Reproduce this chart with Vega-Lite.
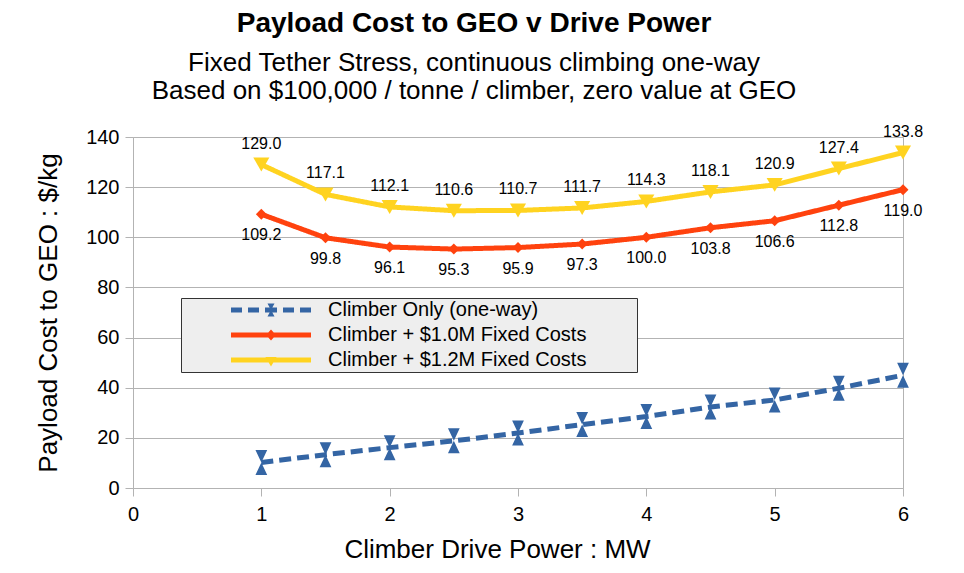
{
  "$schema": "https://vega.github.io/schema/vega-lite/v6.json",
  "width": 770,
  "height": 351,
  "autosize": {"type": "none"},
  "padding": {"left": 133, "top": 137, "right": 61, "bottom": 85},
  "background": "white",
  "config": {
    "font": "Liberation Sans",
    "view": {"stroke": "#b3b3b3", "strokeWidth": 1}
  },
  "title": {
    "text": "Payload Cost to GEO v Drive Power",
    "subtitle": [
      "Fixed Tether Stress, continuous climbing one-way",
      "Based on $100,000 / tonne / climber, zero value at GEO"
    ],
    "font": "Liberation Sans",
    "fontSize": 28,
    "fontWeight": "bold",
    "color": "#000000",
    "subtitleFont": "Liberation Sans",
    "subtitleFontSize": 26,
    "subtitleColor": "#000000",
    "subtitleLineHeight": 28,
    "subtitlePadding": 12,
    "anchor": "middle",
    "frame": "group",
    "offset": 20,
    "dx": -44
  },
  "data": {
    "values": [
      {"power": 1.0, "cost": 10.2, "series": "Climber Only (one-way)"},
      {"power": 1.5, "cost": 13.3, "series": "Climber Only (one-way)"},
      {"power": 2.0, "cost": 16.1, "series": "Climber Only (one-way)"},
      {"power": 2.5, "cost": 18.8, "series": "Climber Only (one-way)"},
      {"power": 3.0, "cost": 21.9, "series": "Climber Only (one-way)"},
      {"power": 3.5, "cost": 25.3, "series": "Climber Only (one-way)"},
      {"power": 4.0, "cost": 28.5, "series": "Climber Only (one-way)"},
      {"power": 4.5, "cost": 32.3, "series": "Climber Only (one-way)"},
      {"power": 5.0, "cost": 35.1, "series": "Climber Only (one-way)"},
      {"power": 5.5, "cost": 39.8, "series": "Climber Only (one-way)"},
      {"power": 6.0, "cost": 45.0, "series": "Climber Only (one-way)"},
      {"power": 1.0, "cost": 109.2, "series": "Climber + $1.0M Fixed Costs"},
      {"power": 1.5, "cost": 99.8, "series": "Climber + $1.0M Fixed Costs"},
      {"power": 2.0, "cost": 96.1, "series": "Climber + $1.0M Fixed Costs"},
      {"power": 2.5, "cost": 95.3, "series": "Climber + $1.0M Fixed Costs"},
      {"power": 3.0, "cost": 95.9, "series": "Climber + $1.0M Fixed Costs"},
      {"power": 3.5, "cost": 97.3, "series": "Climber + $1.0M Fixed Costs"},
      {"power": 4.0, "cost": 100.0, "series": "Climber + $1.0M Fixed Costs"},
      {"power": 4.5, "cost": 103.8, "series": "Climber + $1.0M Fixed Costs"},
      {"power": 5.0, "cost": 106.6, "series": "Climber + $1.0M Fixed Costs"},
      {"power": 5.5, "cost": 112.8, "series": "Climber + $1.0M Fixed Costs"},
      {"power": 6.0, "cost": 119.0, "series": "Climber + $1.0M Fixed Costs"},
      {"power": 1.0, "cost": 129.0, "series": "Climber + $1.2M Fixed Costs"},
      {"power": 1.5, "cost": 117.1, "series": "Climber + $1.2M Fixed Costs"},
      {"power": 2.0, "cost": 112.1, "series": "Climber + $1.2M Fixed Costs"},
      {"power": 2.5, "cost": 110.6, "series": "Climber + $1.2M Fixed Costs"},
      {"power": 3.0, "cost": 110.7, "series": "Climber + $1.2M Fixed Costs"},
      {"power": 3.5, "cost": 111.7, "series": "Climber + $1.2M Fixed Costs"},
      {"power": 4.0, "cost": 114.3, "series": "Climber + $1.2M Fixed Costs"},
      {"power": 4.5, "cost": 118.1, "series": "Climber + $1.2M Fixed Costs"},
      {"power": 5.0, "cost": 120.9, "series": "Climber + $1.2M Fixed Costs"},
      {"power": 5.5, "cost": 127.4, "series": "Climber + $1.2M Fixed Costs"},
      {"power": 6.0, "cost": 133.8, "series": "Climber + $1.2M Fixed Costs"}
    ]
  },
  "encoding": {
    "x": {
      "field": "power",
      "type": "quantitative",
      "scale": {"domain": [0, 6], "nice": false, "zero": false},
      "axis": {
        "values": [0, 1, 2, 3, 4, 5, 6],
        "format": "d",
        "grid": false,
        "domain": false,
        "ticks": true,
        "tickColor": "#b3b3b3",
        "tickSize": 8,
        "labelFontSize": 20,
        "labelColor": "#000000",
        "labelPadding": 8,
        "labelFlush": false,
        "title": "Climber Drive Power : MW",
        "titleFontSize": 26,
        "titleFontWeight": "normal",
        "titleColor": "#000000",
        "titlePadding": 12,
        "titleX": 364
      }
    },
    "y": {
      "field": "cost",
      "type": "quantitative",
      "scale": {"domain": [0, 140], "nice": false},
      "axis": {
        "values": [0, 20, 40, 60, 80, 100, 120, 140],
        "grid": true,
        "gridColor": "#b3b3b3",
        "domain": false,
        "ticks": true,
        "tickColor": "#b3b3b3",
        "tickSize": 8,
        "labelFontSize": 20,
        "labelColor": "#000000",
        "labelPadding": 6,
        "title": "Payload Cost to GEO : $/kg",
        "titleFontSize": 26,
        "titleFontWeight": "normal",
        "titleColor": "#000000",
        "titlePadding": 24
      }
    }
  },
  "layer": [
    {
      "mark": {"type": "line", "strokeWidth": 5},
      "encoding": {
        "color": {
          "field": "series",
          "type": "nominal",
          "scale": {
            "domain": ["Climber Only (one-way)", "Climber + $1.0M Fixed Costs", "Climber + $1.2M Fixed Costs"],
            "range": ["#3465a4", "#ff420e", "#ffd320"]
          },
          "legend": {
            "title": "\u2003",
            "titleOrient": "right",
            "titleFontSize": 20,
            "titlePadding": 49,
            "orient": "none",
            "legendX": 48,
            "legendY": 161,
            "fillColor": "#eeeeee",
            "strokeColor": "#333333",
            "padding": 2,
            "labelFont": "Liberation Sans",
            "labelFontSize": 20,
            "labelColor": "#000000",
            "labelLimit": 500,
            "symbolType": "M-8,-0.5H8V0.5H-8Z",
            "symbolSize": 100,
            "symbolStrokeWidth": 0,
            "symbolOffset": 78,
            "labelOffset": 47,
            "rowPadding": 5,
            "encode": {
              "symbols": {
                "update": {
                  "shape": {"signal": "datum.value === 'Climber Only (one-way)' ? 'M-8,-0.5H-5.8V0.5H-8ZM-4.6,-0.5H-2.4V0.5H-4.6ZM-1.2,-0.5H1.2V0.5H-1.2ZM2.4,-0.5H4.6V0.5H2.4ZM5.8,-0.5H8V0.5H5.8ZM-0.7,-1.3H0.7L0,0L0.7,1.3H-0.7L0,0Z' : datum.value === 'Climber + $1.0M Fixed Costs' ? 'M-8,-0.5H8V0.5H-8ZM0,-1.1L1,0L0,1.1L-1,0Z' : 'M-8,-0.5H8V0.5H-8ZM-1.1,-0.6H1.1L0,1.3Z'"},
                  "fill": {"scale": "color", "field": "value"},
                  "fillOpacity": {"value": 1},
                  "stroke": {"value": "transparent"},
                  "strokeWidth": {"value": 0},
                  "opacity": {"value": 1}
                }
              }
            }
          }
        },
        "strokeDash": {
          "field": "series",
          "type": "nominal",
          "scale": {
            "domain": ["Climber Only (one-way)", "Climber + $1.0M Fixed Costs", "Climber + $1.2M Fixed Costs"],
            "range": [[12, 6], [1, 0], [1, 0]]
          },
          "legend": null
        }
      }
    },
    {
      "transform": [{"filter": "datum.series === 'Climber Only (one-way)'"}],
      "mark": {"type": "point", "filled": true, "opacity": 1, "color": "#3465a4", "shape": "M-0.47,-1H0.47L0,0L0.47,1H-0.47L0,0Z", "size": 625}
    },
    {
      "transform": [{"filter": "datum.series === 'Climber + $1.0M Fixed Costs'"}],
      "mark": {"type": "point", "filled": true, "opacity": 1, "color": "#ff420e", "shape": "diamond", "size": 120}
    },
    {
      "transform": [{"filter": "datum.series === 'Climber + $1.2M Fixed Costs'"}],
      "mark": {"type": "point", "filled": true, "opacity": 1, "color": "#ffd320", "shape": "triangle-down", "size": 260}
    },
    {
      "transform": [{"filter": "datum.series === 'Climber + $1.2M Fixed Costs'"}],
      "mark": {"type": "text", "dy": -21, "fontSize": 16, "color": "#000000", "baseline": "middle"},
      "encoding": {"text": {"field": "cost", "type": "quantitative", "format": ".1f"}}
    },
    {
      "transform": [{"filter": "datum.series === 'Climber + $1.0M Fixed Costs'"}],
      "mark": {"type": "text", "dy": 21, "fontSize": 16, "color": "#000000", "baseline": "middle"},
      "encoding": {"text": {"field": "cost", "type": "quantitative", "format": ".1f"}}
    }
  ]
}
